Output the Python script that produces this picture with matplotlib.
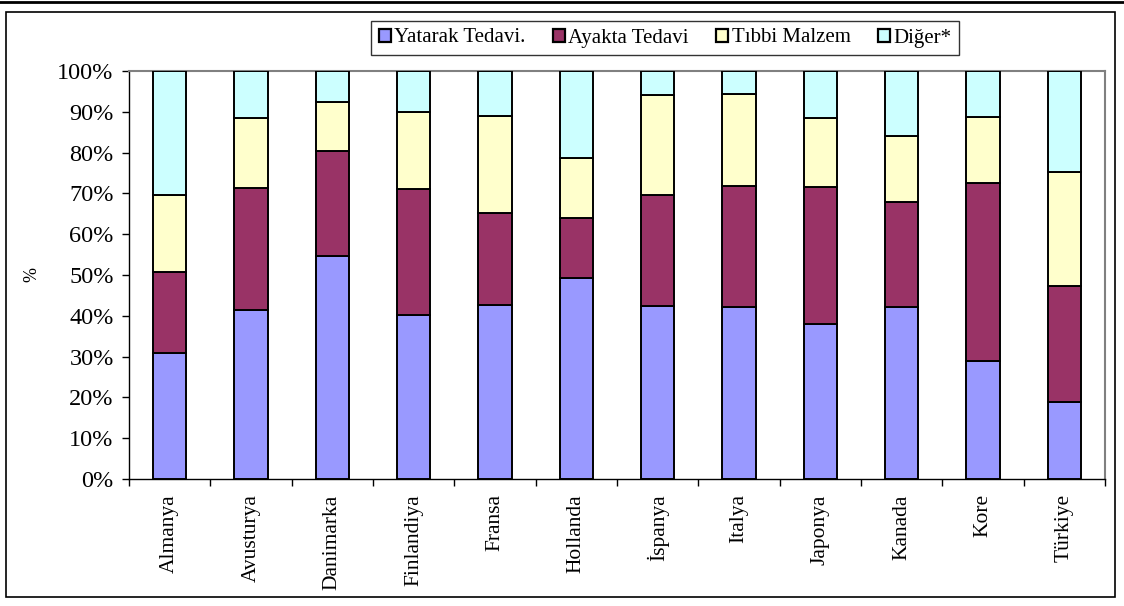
import numpy as np
import matplotlib
matplotlib.use("Agg")
import matplotlib.pyplot as plt
from matplotlib.patches import Rectangle
from matplotlib.lines import Line2D

plt.rcParams['font.family'] = ['Liberation Serif', 'DejaVu Serif']

# Health expenditure shares by country (%)
countries = ['Almanya', 'Avusturya', 'Danimarka', 'Finlandiya', 'Fransa', 'Hollanda',
             'İspanya', 'Italya', 'Japonya', 'Kanada', 'Kore', 'Türkiye']
yatarak = [31.0, 41.4, 54.7, 40.2, 42.6, 49.2, 42.5, 42.2, 37.9, 42.2, 28.8, 18.9]
ayakta = [19.8, 29.9, 25.7, 30.9, 22.7, 14.7, 27.1, 29.6, 33.7, 25.8, 43.7, 28.5]
malzeme = [18.8, 17.3, 11.9, 18.8, 23.7, 14.7, 24.5, 22.6, 17.0, 16.1, 16.3, 27.8]
diger = [30.4, 11.4, 7.7, 10.1, 11.0, 21.4, 5.9, 5.6, 11.4, 15.9, 11.2, 24.8]

series = [yatarak, ayakta, malzeme, diger]
labels = ['Yatarak Tedavi.', 'Ayakta Tedavi', 'Tıbbi Malzem', 'Diğer*']
colors = ['#9999FF', '#993366', '#FFFFCC', '#CCFFFF']

W, H = 1124, 606
fig = plt.figure(figsize=(W / 100, H / 100), dpi=100)
ax = fig.add_axes([129 / W, 1 - 479 / H, (1105 - 129) / W, (479 - 71) / H])

x = np.arange(len(countries))
bottom = np.zeros(len(countries))
for vals, lab, col in zip(series, labels, colors):
    ax.bar(x, vals, width=0.41, bottom=bottom, color=col, edgecolor='black',
           linewidth=1.4, label=lab, zorder=3)
    bottom += np.array(vals)

ax.set_xlim(-0.5, len(countries) - 0.5)
ax.set_ylim(0, 100)

# category ticks between bars, labels under bar centres
ax.set_xticks(np.arange(len(countries) + 1) - 0.5)
ax.set_xticklabels([])
ax.set_xticks(x, minor=True)
ax.set_xticklabels(countries, minor=True, rotation=90, fontsize=15.5, va='top', ha='center')
ax.tick_params(axis='x', which='major', direction='out', length=5, width=1, color='black')
ax.tick_params(axis='x', which='minor', length=0, pad=11)

ax.set_yticks(np.arange(0, 101, 10))
ax.set_yticklabels([f'{v}%' for v in range(0, 101, 10)], fontsize=17.5)
ax.tick_params(axis='y', direction='out', length=5, width=1, color='black', pad=6)

ax.set_ylabel('%', fontsize=13, labelpad=12)

for side in ['left', 'bottom']:
    ax.spines[side].set_color('black')
    ax.spines[side].set_linewidth(1.0)
for side in ['top', 'right']:
    ax.spines[side].set_color('#808080')
    ax.spines[side].set_linewidth(1.5)

# legend with small square keys
handles = [Rectangle((0, 0), 1, 1, facecolor=c, edgecolor='black', linewidth=1.6)
           for c in colors]
leg = fig.legend(handles, labels, loc='center', bbox_to_anchor=(665 / W, 1 - 38 / H),
                 ncol=4, fontsize=15, frameon=True, fancybox=False, shadow=False,
                 handlelength=0.6, handleheight=0.6, handletextpad=0.15,
                 columnspacing=1.3, borderpad=0.35, borderaxespad=0)
leg.get_frame().set_edgecolor('black')
leg.get_frame().set_linewidth(1.0)

# outer chart border
fig.patches.append(Rectangle((6 / W, 1 - 597 / H), (1115 - 6) / W, (597 - 12) / H,
                             transform=fig.transFigure, fill=False,
                             edgecolor='black', linewidth=1.2))
fig.lines.append(Line2D([0, 1], [1 - 1.5 / H, 1 - 1.5 / H], transform=fig.transFigure,
                        color='black', linewidth=2))

fig.savefig('out.png', dpi=100, facecolor='white')
